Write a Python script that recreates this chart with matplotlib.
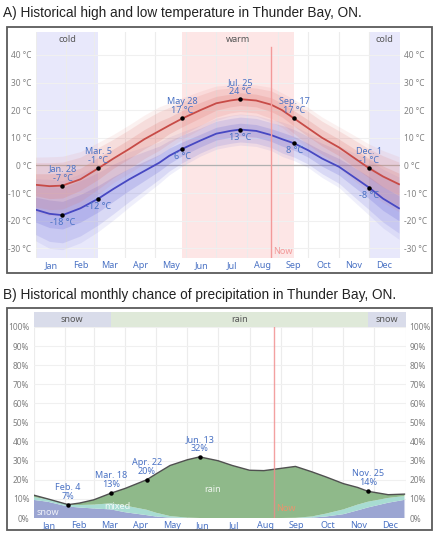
import numpy as np
import matplotlib
matplotlib.use("Agg")
import matplotlib.pyplot as plt
from matplotlib.patches import Rectangle
from matplotlib.transforms import blended_transform_factory

W, H = 436, 534

month_names = ["Jan", "Feb", "Mar", "Apr", "May", "Jun",
               "Jul", "Aug", "Sep", "Oct", "Nov", "Dec"]
month_starts = [0, 31, 59, 90, 120, 151, 181, 212, 243, 273, 304, 334, 365]

# --- temperature (day of year, deg C) ---
temp_days = [0, 14, 27, 45, 63, 78, 94, 109, 124, 134, 147, 165, 181,
             195, 205, 221, 236, 247, 259, 273, 287, 304, 318, 334, 348, 364]
temp_high = [-7, -7.5, -7.3, -5, -1, 2.5, 6, 9.5, 12.5, 14.5, 17, 20, 22.5,
             23.5, 24, 23.5, 22, 20, 17, 13.5, 10, 6.5, 3, -1, -4, -6.8]
temp_low = [-16, -17.5, -18, -15.5, -12, -8.5, -5, -2, 1, 3.5, 6, 9, 11.5,
            12.5, 13, 12.5, 11, 9.5, 8, 5.5, 2.5, -0.5, -4, -8, -12, -15.5]
high_spread_outer = [8, 8.5, 8.5, 8, 7.5, 7, 7, 7, 7, 6.5, 6, 5.5, 5,
                     4.5, 4.5, 4.5, 5, 5, 5.5, 6, 6, 6, 6.5, 7, 7.5, 8]
high_spread_inner = [4, 4.5, 4.5, 4, 4, 3.5, 3.5, 3.5, 3.5, 3, 3, 2.8, 2.5,
                     2.3, 2.3, 2.3, 2.5, 2.5, 2.8, 3, 3, 3, 3.3, 3.5, 3.8, 4]
low_spread_outer = [9, 10, 10, 10, 9.5, 9, 8, 7, 6, 5.5, 5, 4.5, 4.5,
                    4.5, 4.5, 4.5, 4.5, 5, 5, 5, 5.5, 6, 7, 8, 8.5, 9]
low_spread_inner = [4.5, 5, 5, 5, 4.8, 4.5, 4, 3.5, 3, 2.8, 2.5, 2.3, 2.3,
                    2.3, 2.3, 2.3, 2.3, 2.5, 2.5, 2.5, 2.8, 3, 3.5, 4, 4.3, 4.5]
temp_mark_days = [27, 63, 147, 205, 259, 334]
temp_mark_labels = ["Jan. 28", "Mar. 5", "May 28", "Jul. 25", "Sep. 17", "Dec. 1"]
cold_periods = [(0, 63), (334, 365)]
warm_period = (147, 259)
now_day = 236

# --- precipitation chance (%) ---
precip_days = [0, 14, 34, 45, 59, 76, 90, 111, 120, 134, 151, 163, 181,
               195, 212, 226, 243, 257, 273, 287, 304, 318, 328, 348, 364]
snow = [9.5, 8.5, 6, 5.5, 5, 4.5, 3, 1.5, 0.8, 0.2, 0, 0, 0,
        0, 0, 0, 0, 0, 0.2, 0.8, 2, 4, 5.5, 8, 9.5]
mixed = [1.5, 1.2, 1, 1.3, 2, 3.2, 3.5, 2.8, 2, 0.8, 0.2, 0, 0,
         0, 0, 0, 0, 0.1, 0.6, 1.5, 2.5, 3, 3, 2.5, 2]
rain = [1, 0.3, 0, 1, 2.5, 5.3, 9, 15.7, 20.2, 26.5, 30.3, 32, 30,
        27.5, 25, 24.8, 26, 26.9, 23.4, 19.2, 13.5, 9, 5.5, 1.7, 1]
precip_mark_days = [34, 76, 111, 163, 328]
precip_mark_labels = ["Feb. 4", "Mar. 18", "Apr. 22", "Jun. 13", "Nov. 25"]
season_bands = [(0, 76, "snow"), (76, 328, "rain"), (328, 365, "snow")]

FONT = "Noto Sans"
ANN = "#4a72c4"
TICK = "#808080"
plt.rcParams["font.family"] = FONT

fig = plt.figure(figsize=(W / 100, H / 100), dpi=100)


def px_axes(left, top, right, bottom):
    return fig.add_axes([left / W, 1 - bottom / H, (right - left) / W, (bottom - top) / H])


def box(left, top, right, bottom):
    fig.patches.append(Rectangle((left / W, 1 - bottom / H), (right - left) / W,
                                 (bottom - top) / H, transform=fig.transFigure,
                                 fill=False, edgecolor="#5a5a5a", lw=1.3))


def style_axes(ax, yticks, ylabels):
    for s in ax.spines.values():
        s.set_visible(False)
    ax.set_xlim(0, 365)
    centers = [(a + b) / 2 for a, b in zip(month_starts[:-1], month_starts[1:])]
    ax.set_xticks(centers)
    ax.set_xticklabels(month_names, color=ANN, fontsize=6.5)
    ax.set_xticks(month_starts, minor=True)
    ax.tick_params(axis="x", which="both", length=0, pad=2)
    ax.grid(axis="x", which="minor", color="#ececec", lw=0.8, zorder=0)
    ax.set_yticks(yticks)
    ax.set_yticklabels(ylabels)
    ax.tick_params(axis="y", length=0, labelsize=6, labelcolor=TICK,
                   labelleft=True, labelright=True, pad=3)
    ax.grid(axis="y", which="major", color="#f0f0f0", lw=0.8, zorder=0)
    ax.set_axisbelow(True)


fig.text(3 / W, 1 - 13 / H, "A) Historical high and low temperature in Thunder Bay, ON.",
         fontsize=9.8, family="Liberation Sans", va="center", ha="left", color="#222")
fig.text(3 / W, 1 - 295 / H, "B) Historical monthly chance of precipitation in Thunder Bay, ON.",
         fontsize=9.8, family="Liberation Sans", va="center", ha="left", color="#222")
box(7, 27, 432, 273)
box(7, 308, 432, 530)

# ---------------- panel A ----------------
ax = px_axes(35.5, 32, 400, 258)
yt = list(range(-30, 41, 10))
style_axes(ax, yt, [f"{v} °C" for v in yt])
ax.set_ylim(-33.5, 48.3)
trans = blended_transform_factory(ax.transData, ax.transAxes)
for a, b in cold_periods:
    ax.axvspan(a, b, color="#e8e8fb", zorder=0.5, lw=0)
    ax.text((a + b) / 2, 0.968, "cold", transform=trans, ha="center", va="center",
            fontsize=6.5, color="#555")
ax.axvspan(*warm_period, color="#fde6e6", zorder=0.5, lw=0)
ax.text(sum(warm_period) / 2, 0.968, "warm", transform=trans, ha="center", va="center",
        fontsize=6.5, color="#555")
ax.axhline(0, color="#b0b0b0", lw=0.9, zorder=1)

d = np.array(temp_days)
hi = np.array(temp_high)
lo = np.array(temp_low)
for m, so, si, col in [(lo, low_spread_outer, low_spread_inner, "#6a6ad8"),
                       (hi, high_spread_outer, high_spread_inner, "#e07a74")]:
    so = np.array(so)
    si = np.array(si)
    ax.fill_between(d, m - so * 1.25, m + so * 1.25, color=col, alpha=0.10, lw=0, zorder=2)
    ax.fill_between(d, m - so, m + so, color=col, alpha=0.16, lw=0, zorder=2)
    ax.fill_between(d, m - si, m + si, color=col, alpha=0.22, lw=0, zorder=2)
ax.plot(d, hi, color="#c74b47", lw=1.3, zorder=3)
ax.plot(d, lo, color="#4748c2", lw=1.3, zorder=3)

ax.axvline(now_day, ymin=0, ymax=0.934, color="#f29a9a", lw=1, zorder=4)
ax.text(now_day + 2, 0.03, "Now", transform=trans, fontsize=6.5, color="#f29a9a",
        ha="left", va="center")

for day, lab in zip(temp_mark_days, temp_mark_labels):
    i = temp_days.index(day)
    ax.plot([day, day], [temp_high[i], temp_low[i]], "o", color="black", ms=2.2, zorder=5, ls="none")
    ax.annotate(f"{lab}\n{round(temp_high[i])} °C", (day, temp_high[i]), xytext=(0, 3),
                textcoords="offset pixels", ha="center", va="bottom", fontsize=6.5,
                color=ANN, linespacing=1.0, zorder=6)
    ax.annotate(f"{round(temp_low[i])} °C", (day, temp_low[i]), xytext=(0, -3),
                textcoords="offset pixels", ha="center", va="top", fontsize=6.5,
                color=ANN, zorder=6)

# ---------------- panel B ----------------
bx = px_axes(33.5, 312, 405.5, 518)
pt = list(range(0, 101, 10))
style_axes(bx, pt, [f"{v}%" for v in pt])
top = 107.85
bx.set_ylim(0, top)
pd_ = np.array(precip_days)
bx.stackplot(pd_, snow, mixed, rain, colors=["#9ba5d2", "#a8dcd2", "#8fb98a"],
             lw=0, zorder=2)
total = np.array(snow) + np.array(mixed) + np.array(rain)
bx.plot(pd_, total, color="#505050", lw=1.0, zorder=3)
season_col = {"snow": "#d9dcea", "rain": "#dfe9d9"}
for a, b, name in season_bands:
    bx.add_patch(Rectangle((a, 100), b - a, top - 100, color=season_col[name], lw=0, zorder=4))
    bx.text((a + b) / 2, (100 + top) / 2, name, ha="center", va="center", fontsize=6.5,
            color="#555", zorder=5)
bx.axvline(now_day, ymin=0, ymax=100 / top, color="#f08a8a", lw=1, alpha=0.8, zorder=3.5)
bx.text(now_day + 2, 5, "Now", fontsize=6.5, color="#e8956e", ha="left", va="center", zorder=5)
bx.text(14, 3, "snow", fontsize=6.5, color="white", ha="center", va="center", alpha=0.85, zorder=5)
bx.text(82, 6, "mixed", fontsize=6.5, color="white", ha="center", va="center", alpha=0.85, zorder=5)
bx.text(176, 15, "rain", fontsize=6.5, color="white", ha="center", va="center", alpha=0.85, zorder=5)

for day, lab in zip(precip_mark_days, precip_mark_labels):
    i = precip_days.index(day)
    bx.plot(day, total[i], "o", color="black", ms=2.2, zorder=5)
    bx.annotate(f"{lab}\n{round(total[i])}%", (day, total[i]), xytext=(0, 4),
                textcoords="offset pixels", ha="center", va="bottom", fontsize=6.5,
                color=ANN, linespacing=1.0, zorder=6)

fig.savefig("out.png", dpi=100)
